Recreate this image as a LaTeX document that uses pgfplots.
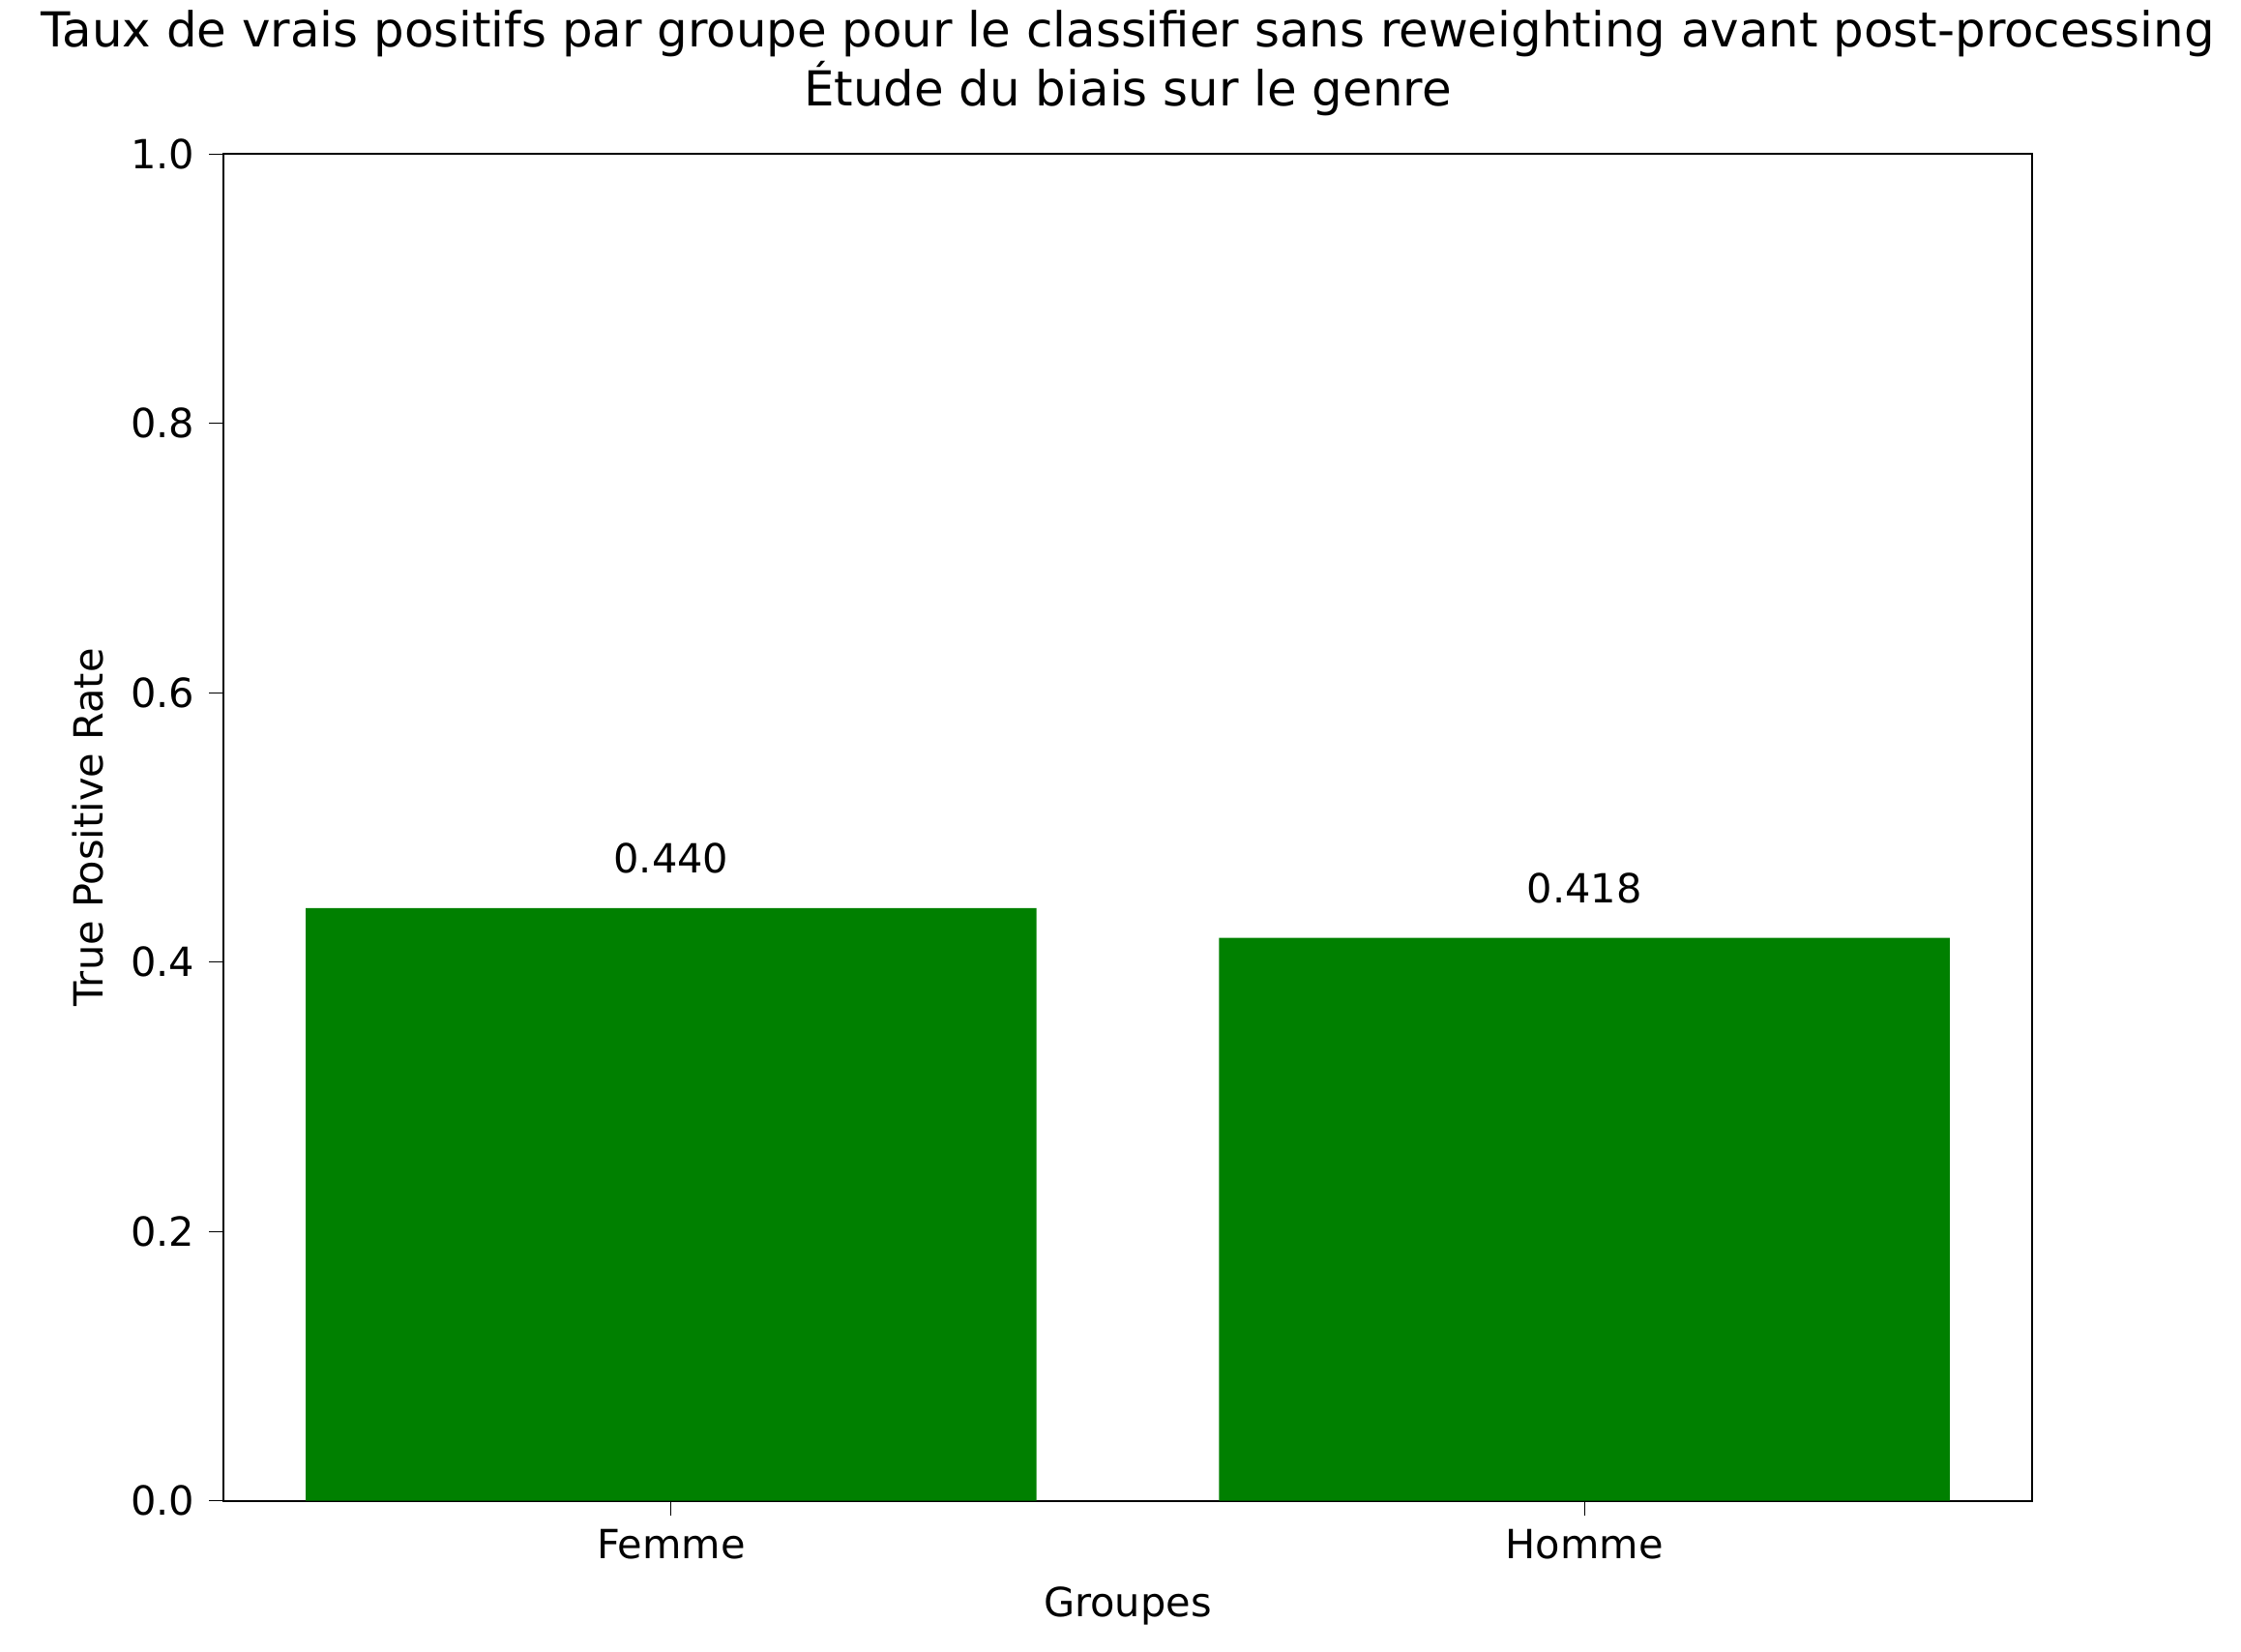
\documentclass[border=0pt]{standalone}
\usepackage{pgfplots}
\pgfplotsset{compat=1.18}
\usepackage{fontspec}
\setmainfont{DejaVu Sans}
\begin{document}
\begin{tikzpicture}
\path[use as bounding box] (-0.77in,-0.52in) rectangle (6.95in,5.17in);
\begin{axis}[
  at={(0,0)}, anchor=south west, scale only axis,
  width=6.23in, height=4.64in,
  xmin=-0.49, xmax=1.49, ymin=0, ymax=1,
  xtick={0,1}, xticklabels={Femme,Homme},
  ytick={0,0.2,0.4,0.6,0.8,1.0},
  yticklabel style={/pgf/number format/.cd,fixed,fixed zerofill,precision=1},
  /pgf/number format/assume math mode=true,
  tick style={black}, tick align=outside, xtick pos=bottom, ytick pos=left,
  major tick length=0.05in,
  ticklabel style={font=\fontsize{10}{12}\selectfont},
  xlabel={Groupes}, ylabel={True Positive Rate},
  label style={font=\fontsize{10}{12}\selectfont},
  title style={font=\fontsize{12}{14.5}\selectfont, align=center},
  title={Taux de vrais positifs par groupe pour le classifier sans reweighting avant post-processing\\Étude du biais sur le genre},
  ybar, bar width=0.8, bar shift=0,
]
\addplot[fill={rgb,255:red,0;green,128;blue,0}, draw=none] coordinates {(0,0.440) (1,0.418)};
\node[anchor=south, font=\fontsize{10}{12}\selectfont] at (axis cs:0,0.455) {0.440};
\node[anchor=south, font=\fontsize{10}{12}\selectfont] at (axis cs:1,0.433) {0.418};
\end{axis}
\end{tikzpicture}
\end{document}
